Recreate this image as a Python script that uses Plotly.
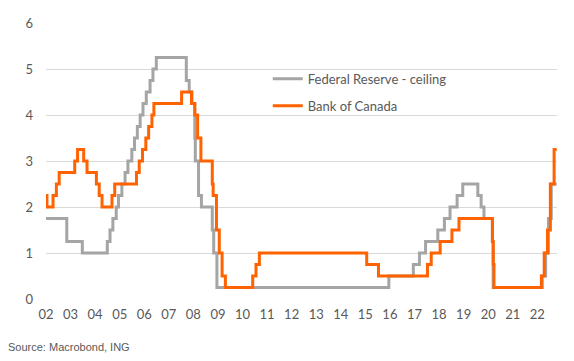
import plotly.graph_objects as go

# Federal Reserve target ceiling (change dates / levels)
fed_dates = ["2002-01-01", "2002-11-06", "2003-06-25", "2004-06-30", "2004-08-10", "2004-09-21",
             "2004-11-10", "2004-12-14", "2005-02-02", "2005-03-22", "2005-05-03", "2005-06-30",
             "2005-08-09", "2005-09-20", "2005-11-01", "2005-12-13", "2006-01-31", "2006-03-28",
             "2006-05-10", "2006-06-29", "2007-09-18", "2007-10-31", "2007-12-11", "2008-01-22",
             "2008-01-30", "2008-03-18", "2008-04-30", "2008-10-08", "2008-10-29", "2008-12-16",
             "2015-12-16", "2016-12-14", "2017-03-15", "2017-06-14", "2017-12-13", "2018-03-21",
             "2018-06-13", "2018-09-26", "2018-12-19", "2019-07-31", "2019-09-18", "2019-10-30",
             "2020-03-03", "2020-03-15", "2022-03-16", "2022-05-04", "2022-06-15", "2022-07-27",
             "2022-10-15"]
fed_values = [1.75, 1.25, 1.00, 1.25, 1.50, 1.75,
              2.00, 2.25, 2.50, 2.75, 3.00, 3.25,
              3.50, 3.75, 4.00, 4.25, 4.50, 4.75,
              5.00, 5.25, 4.75, 4.50, 4.25, 3.50,
              3.00, 2.25, 2.00, 1.50, 1.00, 0.25,
              0.50, 0.75, 1.00, 1.25, 1.50, 1.75,
              2.00, 2.25, 2.50, 2.25, 2.00, 1.75,
              1.25, 0.25, 0.50, 1.00, 1.75, 2.50,
              2.50]

# Bank of Canada overnight target
boc_dates = ["2002-01-01", "2002-01-15", "2002-04-16", "2002-06-04", "2002-07-16", "2003-03-04",
             "2003-04-15", "2003-07-15", "2003-09-03", "2004-01-20", "2004-03-02", "2004-04-13",
             "2004-09-08", "2004-10-19", "2005-09-07", "2005-10-18", "2005-12-06", "2006-01-24",
             "2006-03-07", "2006-04-25", "2006-05-24", "2007-07-10", "2007-12-04", "2008-01-22",
             "2008-03-04", "2008-04-22", "2008-10-08", "2008-10-21", "2008-12-09", "2009-01-20",
             "2009-03-03", "2009-04-21", "2010-06-01", "2010-07-20", "2010-09-08", "2015-01-21",
             "2015-07-15", "2017-07-12", "2017-09-06", "2018-01-17", "2018-07-11", "2018-10-24",
             "2020-03-04", "2020-03-16", "2020-03-27", "2022-03-02", "2022-04-13", "2022-06-01",
             "2022-07-13", "2022-09-07", "2022-10-15"]
boc_values = [2.25, 2.00, 2.25, 2.50, 2.75, 3.00,
              3.25, 3.00, 2.75, 2.50, 2.25, 2.00,
              2.25, 2.50, 2.75, 3.00, 3.25, 3.50,
              3.75, 4.00, 4.25, 4.50, 4.25, 4.00,
              3.50, 3.00, 2.50, 2.25, 1.50, 1.00,
              0.50, 0.25, 0.50, 0.75, 1.00, 0.75,
              0.50, 0.75, 1.00, 1.25, 1.50, 1.75,
              1.25, 0.75, 0.25, 0.50, 1.00, 1.50,
              2.50, 3.25, 3.25]

year_ticks = [f"{y}-01-01" for y in range(2002, 2023)]
year_labels = [f"{y % 100:02d}" for y in range(2002, 2023)]
y_ticks = [0, 1, 2, 3, 4, 5, 6]

GRAY = "#A5A5A5"
ORANGE = "#FF6200"
TXT = "#595959"

fig = go.Figure()
fig.add_trace(go.Scatter(x=fed_dates, y=fed_values, mode="lines", line_shape="hv",
                         line=dict(color=GRAY, width=3), name="Federal Reserve - ceiling",
                         legendgroup="a"))
fig.add_trace(go.Scatter(x=boc_dates, y=boc_values, mode="lines", line_shape="hv",
                         line=dict(color=ORANGE, width=3), name="Bank of Canada",
                         legendgroup="b"))

fig.update_layout(
    width=566, height=353,
    margin=dict(l=38, r=17, t=15, b=62, autoexpand=False),
    paper_bgcolor="white", plot_bgcolor="white",
    font=dict(family="Lato", size=13, color=TXT),
    showlegend=True,
    legend=dict(x=0.434, y=0.852, xanchor="left", yanchor="top",
                bgcolor="rgba(0,0,0,0)", traceorder="grouped", tracegroupgap=7,
                font=dict(family="Lato", size=13, color=TXT)),
    xaxis=dict(type="date", range=["2002-01-01", "2022-10-20"],
               tickmode="array", tickvals=year_ticks, ticktext=year_labels,
               showgrid=False, zeroline=False, showline=False, ticks="",
               ticklabelstandoff=6, automargin=False),
    yaxis=dict(range=[0, 6], tickvals=y_ticks, showgrid=True, gridcolor="#D9D9D9",
               gridwidth=1, zeroline=False, showline=False, ticks="",
               ticklabelstandoff=12, automargin=False),
    annotations=[dict(text="Source: Macrobond, ING", xref="paper", yref="paper",
                      x=-0.078, y=-0.175, xanchor="left", yanchor="middle", showarrow=False,
                      font=dict(family="Liberation Sans", size=11, color=TXT))],
)

fig.write_html("out.html")
